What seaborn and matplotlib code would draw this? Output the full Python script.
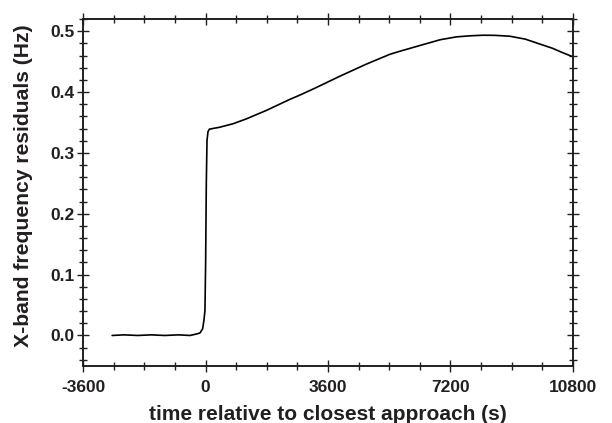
# Residuos de frecuencia en banda X alrededor del máximo acercamiento
import seaborn as sns
import matplotlib.pyplot as plt
from matplotlib.ticker import MultipleLocator
import pandas as pd

# valores
tiempo = [-2750, -2400, -2000, -1600, -1200, -800, -460, -300, -168, -88, -50,
          -20, 0, 20, 40, 70, 110, 200, 400, 811, 1200, 1793, 2477, 2771, 3200,
          3947, 4731, 5416, 5710, 6395, 6900, 7376, 7800, 8159, 8500, 8943,
          9400, 9824, 10200, 10509, 10756]
residuo = [0.000, 0.001, 0.000, 0.001, 0.000, 0.001, 0.000, 0.002, 0.004, 0.011,
           0.025, 0.041, 0.120, 0.250, 0.320, 0.335, 0.339, 0.340, 0.342, 0.348,
           0.356, 0.370, 0.388, 0.395, 0.406, 0.426, 0.446, 0.462, 0.467, 0.478,
           0.486, 0.4907, 0.4925, 0.4934, 0.4932, 0.4918, 0.487, 0.479, 0.472,
           0.4645, 0.459]

df = pd.DataFrame({'t': tiempo, 'r': residuo})

sns.set_style('ticks')
plt.rcParams['font.family'] = ['Liberation Sans', 'DejaVu Sans']
plt.rcParams['font.weight'] = 'bold'
plt.rcParams['axes.unicode_minus'] = False
TXT = '#231f20'

fig, ax = plt.subplots(figsize=(6.12, 4.23), dpi=100)
fig.subplots_adjust(left=0.136, right=0.936, top=0.955, bottom=0.135)

sns.lineplot(data=df, x='t', y='r', color='black', linewidth=1.2, ax=ax)

ax.set_xlim(-3600, 10800)
ax.set_ylim(-0.05, 0.52)
ax.xaxis.set_minor_locator(MultipleLocator(900))
ax.yaxis.set_minor_locator(MultipleLocator(0.02))
ax.set_xticks([-3600, 0, 3600, 7200, 10800])
ax.set_xticklabels(['-3600', '0', '3600', '7200', '10800'])
ax.set_yticks([0.0, 0.1, 0.2, 0.3, 0.4, 0.5])
ax.set_yticklabels(['0.0', '0.1', '0.2', '0.3', '0.4', '0.5'])

for s in ax.spines.values():
    s.set_visible(True)
    s.set_linewidth(1.4)
    s.set_color(TXT)
ax.tick_params(which='both', direction='inout', top=True, right=True,
               color=TXT, width=1.0)
ax.tick_params(which='major', length=9, labelsize=12.5, labelcolor=TXT)
ax.tick_params(which='minor', length=6)
ax.tick_params(axis='x', which='major', pad=6)
ax.tick_params(axis='y', which='major', pad=2)

ax.set_xlabel('time relative to closest approach (s)', fontsize=15,
              fontweight='bold', color=TXT, labelpad=7)
ax.set_ylabel('X-band frequency residuals (Hz)', fontsize=15.2,
              fontweight='bold', color=TXT, labelpad=9.5)
ax.yaxis.set_label_coords(-0.102, 0.52)

plt.savefig('out.png', dpi=100)
plt.close()
